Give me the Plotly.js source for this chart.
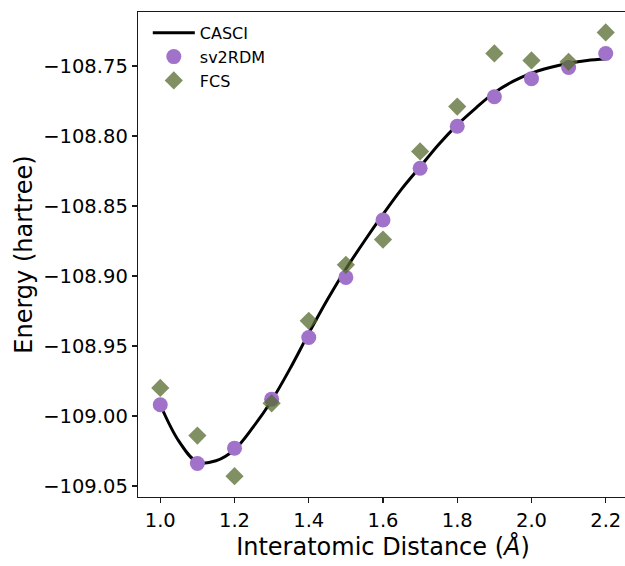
<!DOCTYPE html>
<html>
<head>
<meta charset="utf-8">
<script src="https://cdn.plot.ly/plotly-3.0.1.min.js"></script>
<style>
  html, body { margin: 0; padding: 0; overflow: hidden; background: #fff; }
  #chart { width: 630px; height: 566px; }
</style>
</head>
<body>
<div id="chart"></div>
<script>
// CASCI curve (dense reading of the smooth line)
const casciX = [1.00, 1.05, 1.10, 1.15, 1.20, 1.25, 1.30, 1.35, 1.40, 1.45, 1.50, 1.55, 1.60,
                1.65, 1.70, 1.75, 1.80, 1.85, 1.90, 1.95, 2.00, 2.05, 2.10, 2.15, 2.20];
const casciY = [-108.992, -109.018, -109.033, -109.032, -109.024, -109.008, -108.989, -108.966,
                -108.941, -108.917, -108.895, -108.875, -108.856, -108.838, -108.822, -108.806,
                -108.792, -108.780, -108.769, -108.761, -108.755, -108.751, -108.748, -108.746, -108.745];

// sv2RDM points
const pointX = [1.0, 1.1, 1.2, 1.3, 1.4, 1.5, 1.6, 1.7, 1.8, 1.9, 2.0, 2.1, 2.2];
const sv2rdmY = [-108.992, -109.034, -109.023, -108.988, -108.944, -108.901, -108.860,
                 -108.823, -108.793, -108.772, -108.759, -108.751, -108.741];

// FCS points
const fcsY = [-108.980, -109.014, -109.043, -108.991, -108.932, -108.892, -108.874,
              -108.811, -108.779, -108.741, -108.746, -108.747, -108.726];

const traces = [
  {
    x: casciX, y: casciY, type: 'scatter', mode: 'lines', name: 'CASCI',
    line: { color: '#000000', width: 3, shape: 'spline', smoothing: 1 }
  },
  {
    x: pointX, y: sv2rdmY, type: 'scatter', mode: 'markers', name: 'sv2RDM',
    marker: { color: '#a072ca', size: 15, symbol: 'circle', line: { width: 0 } }
  },
  {
    x: pointX, y: fcsY, type: 'scatter', mode: 'markers', name: 'FCS',
    marker: { color: 'rgba(85,107,47,0.75)', size: 14, symbol: 'diamond', line: { width: 0 } }
  }
];

const layout = {
  width: 630, height: 566,
  margin: { l: 138, r: 2, t: 12, b: 69 },
  paper_bgcolor: '#ffffff', plot_bgcolor: '#ffffff',
  font: { family: 'DejaVu Sans', color: '#000000' },
  showlegend: true,
  legend: {
    x: 0.02, y: 0.992, xanchor: 'left', yanchor: 'top',
    bgcolor: 'rgba(0,0,0,0)', borderwidth: 0,
    font: { family: 'DejaVu Sans', size: 16, color: '#000' },
    itemwidth: 42
  },
  xaxis: {
    range: [0.94, 2.26],
    tick0: 1.0, dtick: 0.2, tickformat: '.1f',
    showgrid: false, zeroline: false,
    showline: true, mirror: true, linecolor: '#1a1a1a', linewidth: 1.3,
    ticks: 'outside', ticklen: 5, tickwidth: 1.2, tickcolor: '#1a1a1a',
    tickfont: { family: 'DejaVu Sans', size: 19.5, color: '#000' },
    title: { text: 'Interatomic Distance (<i>Å</i>)', font: { family: 'DejaVu Sans', size: 24, color: '#000' }, standoff: 6 }
  },
  yaxis: {
    range: [-109.0579, -108.7114],
    tick0: -108.75, dtick: 0.05, tickformat: '.2f',
    showgrid: false, zeroline: false,
    showline: true, mirror: true, linecolor: '#1a1a1a', linewidth: 1.3,
    ticks: 'outside', ticklen: 5, tickwidth: 1.2, tickcolor: '#1a1a1a',
    tickfont: { family: 'DejaVu Sans', size: 19.5, color: '#000' },
    title: { text: 'Energy (hartree)', font: { family: 'DejaVu Sans', size: 24, color: '#000' }, standoff: 3 }
  }
};

Plotly.newPlot('chart', traces, layout, { displayModeBar: false, staticPlot: true });
</script>
</body>
</html>
